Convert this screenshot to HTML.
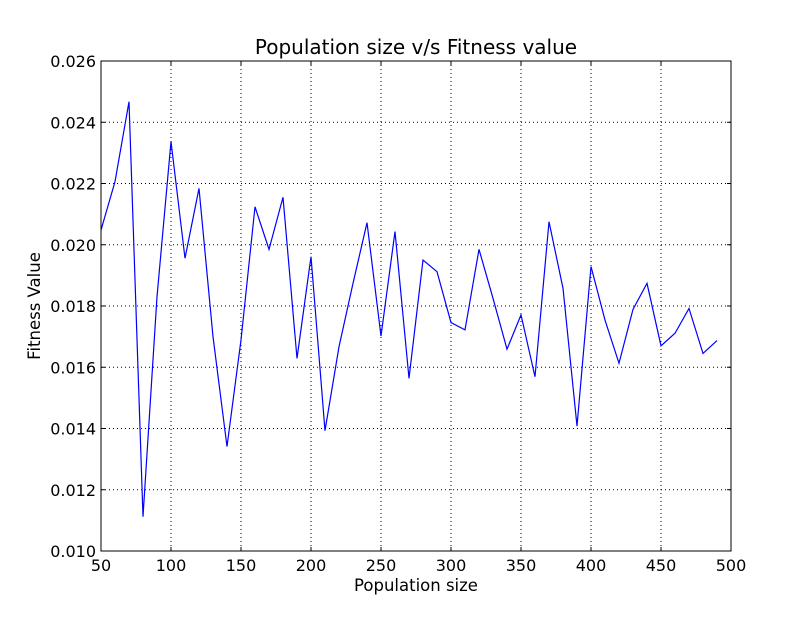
<!DOCTYPE html>
<html><head><meta charset="utf-8"><style>
html,body{margin:0;padding:0;background:#fff;}
svg text{font-family:"DejaVu Sans","Liberation Sans",sans-serif;fill:#000;}
</style></head><body>
<svg id="chart" width="812" height="612" xmlns="http://www.w3.org/2000/svg">
<rect width="812" height="612" fill="#fff"/>
<g id="grid"></g>
<g id="ticks"></g>
<polyline id="series" fill="none" stroke="#0000ff" stroke-width="1.2"/>
<rect x="101" y="61" width="630" height="490" fill="none" stroke="#000" stroke-width="1"/>
<text x="416" y="54" font-size="20" text-anchor="middle">Population size v/s Fitness value</text>
<text x="416" y="591" font-size="16.5" text-anchor="middle">Population size</text>
<text transform="translate(40,306) rotate(-90)" font-size="16.5" text-anchor="middle">Fitness Value</text>
</svg>
<script>
const xValues=[50,60,70,80,90,100,110,120,130,140,150,160,170,180,190,200,210,220,230,240,250,260,270,280,290,300,310,320,330,340,350,360,370,380,390,400,410,420,430,440,450,460,470,480,490];
const fitness=[0.02048,0.02206,0.02467,0.01112,0.01830,0.02337,0.01956,0.02184,0.01700,0.01341,0.01689,0.02124,0.01985,0.02155,0.01629,0.01961,0.01393,0.01667,0.01874,0.02072,0.01702,0.02043,0.01564,0.01950,0.01912,0.01746,0.01722,0.01985,0.01825,0.01659,0.01771,0.01569,0.02075,0.01858,0.01408,0.01929,0.01754,0.01613,0.01789,0.01874,0.01670,0.01711,0.01792,0.01645,0.01687];
const xTicks=[50,100,150,200,250,300,350,400,450,500];
const yTicks=[0.010,0.012,0.014,0.016,0.018,0.020,0.022,0.024,0.026];
const X0=101,X1=731,Y0=551,Y1=61;
const sx=v=>X0+(v-50)/(500-50)*(X1-X0);
const sy=v=>Y0-(v-0.010)/(0.026-0.010)*(Y0-Y1);
const NS="http://www.w3.org/2000/svg";
const grid=document.getElementById('grid'),ticks=document.getElementById('ticks');
function mk(tag,attrs,parent){const e=document.createElementNS(NS,tag);for(const k in attrs)e.setAttribute(k,attrs[k]);parent.appendChild(e);return e;}
xTicks.forEach(t=>{const x=sx(t);
 const g=mk('line',{x1:x,x2:x,y1:Y1,y2:Y0,stroke:'#000','stroke-width':1,'stroke-dasharray':'1,3'},grid);
 
 
 mk('line',{x1:x,x2:x,y1:Y0,y2:Y0-4,stroke:'#000'},ticks);
 mk('line',{x1:x,x2:x,y1:Y1,y2:Y1+4,stroke:'#000'},ticks);
 const l=mk('text',{x:x,y:Y0+20,'font-size':16,'text-anchor':'middle'},ticks);l.textContent=t;
 
 
});
yTicks.forEach(t=>{const y=sy(t);
 const g=mk('line',{x1:X0,x2:X1,y1:y,y2:y,stroke:'#000','stroke-width':1,'stroke-dasharray':'1,3'},grid);
 
 
 mk('line',{x1:X0,x2:X0+4,y1:y,y2:y,stroke:'#000'},ticks);
 mk('line',{x1:X1,x2:X1-4,y1:y,y2:y,stroke:'#000'},ticks);
 const l=mk('text',{x:X0-5,y:y+6,'font-size':16,'text-anchor':'end'},ticks);l.textContent=t.toFixed(3);
 
 
});
document.getElementById('series').setAttribute('points',xValues.map((x,i)=>sx(x)+','+sy(fitness[i])).join(' '));
</script>
</body></html>
